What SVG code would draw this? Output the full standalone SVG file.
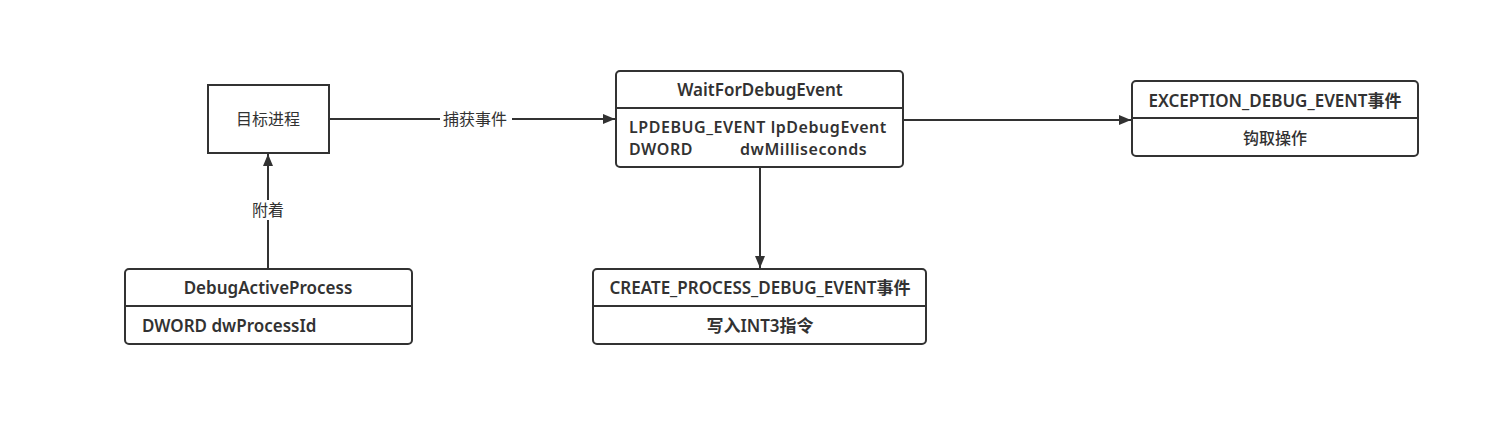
<svg xmlns="http://www.w3.org/2000/svg" width="1505" height="447" viewBox="0 0 1505 447">
<defs>
<style>
.box{fill:#fff;stroke:#323232;stroke-width:2}
.div{stroke:#323232;stroke-width:2}
.t{font-family:"Noto Sans","Noto Sans CJK SC",sans-serif;font-size:17px;font-weight:600;fill:#323232}
.s{font-family:"Noto Sans",sans-serif;font-size:16px;font-weight:600;fill:#323232;letter-spacing:0.55px}
.c{text-anchor:middle}
.cj{font-family:"Noto Sans CJK SC",sans-serif;font-size:16px;font-weight:500;fill:#323232;text-anchor:middle}
.lbl{font-family:"Noto Sans CJK SC",sans-serif;font-size:16px;fill:#323232;text-anchor:middle}
.e{stroke:#323232;stroke-width:2;fill:none;marker-end:url(#ah)}
</style>
<marker id="ah" viewBox="0 0 12 10" refX="12" refY="5" markerWidth="13" markerHeight="10" markerUnits="userSpaceOnUse" orient="auto">
<path d="M0,0 L12,5 L0,10 z" fill="#323232"/>
</marker>
</defs>
<rect width="1505" height="447" fill="#fff"/>
<g id="edges">
<line class="e" x1="329" y1="119" x2="615" y2="119"/>
<rect x="440" y="109" width="72" height="20" fill="#fff"/>
<text class="lbl" x="475" y="125">捕获事件</text>
<line class="e" x1="268" y1="269" x2="268" y2="154"/>
<rect x="250" y="200" width="36" height="20" fill="#fff"/>
<text class="lbl" x="268" y="216">附着</text>
<line class="e" x1="903" y1="120" x2="1131" y2="120"/>
<line class="e" x1="760" y1="167" x2="760" y2="268"/>
</g>
<g id="target">
<rect class="box" x="208" y="85" width="121" height="68"/>
<text class="lbl" x="268" y="125">目标进程</text>
</g>
<g id="debugactive">
<rect class="box" x="125" y="269" width="287" height="75" rx="4"/>
<line class="div" x1="125" y1="306" x2="412" y2="306"/>
<text class="t c" x="268" y="294">DebugActiveProcess</text>
<text class="t" x="142" y="332">DWORD dwProcessId</text>
</g>
<g id="waitfor">
<rect class="box" x="616" y="71" width="287" height="96" rx="4"/>
<line class="div" x1="616" y1="108" x2="903" y2="108"/>
<text class="t c" x="760" y="96">WaitForDebugEvent</text>
<text class="s" x="629" y="133">LPDEBUG_EVENT lpDebugEvent</text>
<text class="s" x="629" y="155">DWORD</text>
<text class="s" x="740" y="155">dwMilliseconds</text>
</g>
<g id="exception">
<rect class="box" x="1132" y="81" width="286" height="75" rx="4"/>
<line class="div" x1="1132" y1="118" x2="1418" y2="118"/>
<text class="t c" x="1275" y="107">EXCEPTION_DEBUG_EVENT事件</text>
<text class="cj" x="1275" y="144">钩取操作</text>
</g>
<g id="create">
<rect class="box" x="593" y="269" width="333" height="75" rx="4"/>
<line class="div" x1="593" y1="306" x2="926" y2="306"/>
<text class="t c" x="760" y="294">CREATE_PROCESS_DEBUG_EVENT事件</text>
<text class="t c" x="760" y="332">写入INT3指令</text>
</g>
</svg>
